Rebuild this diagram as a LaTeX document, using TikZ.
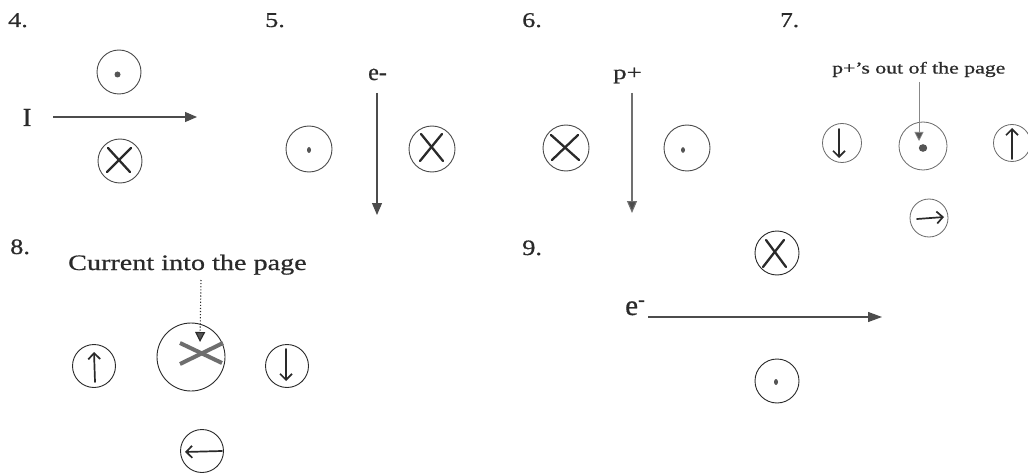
\documentclass[tikz,border=0pt]{standalone}
\usepackage{fontspec}
\setmainfont{Liberation Serif}[FakeBold=0.6]
\usetikzlibrary{arrows.meta,calc}
\definecolor{ink}{HTML}{2A2A2A}
\definecolor{ringc}{HTML}{4A4A4A}
\definecolor{ringl}{HTML}{6A6A6A}
\definecolor{beamc}{HTML}{4C4C4C}
\definecolor{dotc}{HTML}{555555}
\definecolor{bigx}{HTML}{6E6E6E}
\newcommand{\sctxt}[3]{\scalebox{#2}[1]{\fontsize{#1pt}{#1pt}\selectfont #3}}
\begin{document}
\begin{tikzpicture}[x=1pt,y=-1pt,
  ring/.style={circle,draw=ringc,line width=0.9pt,inner sep=0pt,minimum size=#1},
  ring/.default=44pt,
  lring/.style={ring=#1,draw=ringl,line width=0.8pt},
  lbl/.style={anchor=base west,inner sep=0pt,text=ink},
  beam/.style={draw=beamc,line width=1.1pt,-{Triangle[length=12pt,width=10pt,fill=beamc]}},
  xstroke/.style={draw=ink,line width=2.3pt,line cap=round},
  handarr/.style={draw=ink,line width=1.7pt,line cap=round,-{Straight Barb[length=6pt,width=12pt]}},
  fdot/.style={fill=dotc}
]
\useasboundingbox (0,0) rectangle (1028,476);
\fill[white] (0,0) rectangle (1028,476);

% ---------- numbers ----------
\node[lbl] (n4) at (8,27)    {\sctxt{21}{1.25}{4.}};
\node[lbl] (n5) at (265,27)  {\sctxt{21}{1.25}{5.}};
\node[lbl] (n6) at (522,27)  {\sctxt{21}{1.25}{6.}};
\node[lbl] (n7) at (780,27)  {\sctxt{21}{1.2}{7.}};
\node[lbl] (n8) at (10,254)  {\sctxt{22}{1.2}{8.}};
\node[lbl] (n9) at (522,255) {\sctxt{22}{1.2}{9.}};

% ---------- panel 4 ----------
\node[lbl] (lI) at (22.5,126) {\sctxt{26}{1}{I}};
\coordinate (a4s) at (53,117);
\coordinate (a4e) at (197,117);
\draw[beam] (a4s) -- (a4e);
\node[ring] (c4a) at (119,72) {};
\fill[fdot] ($(c4a)+(-1.5,2.5)$) circle (3pt);
\node[ring] (c4b) at (120,161) {};
\draw[xstroke] ($(c4b)+(-12,-13)$) -- ($(c4b)+(10,11)$);
\draw[xstroke] ($(c4b)+(-13,11)$) -- ($(c4b)+(11,-13)$);

% ---------- panel 5 ----------
\node[lbl] (le5) at (368,80) {\sctxt{24}{1}{e-}};
\coordinate (a5s) at (377,93);
\coordinate (a5e) at (377,215);
\draw[beam] (a5s) -- (a5e);
\node[ring=46pt] (c5a) at (309,149) {};
\fill[fdot] ($(c5a)+(0,1)$) ellipse (2pt and 3pt);
\node[ring=46pt] (c5b) at (432,149) {};
\draw[xstroke] ($(c5b)+(-11,-15)$) -- ($(c5b)+(11,12)$);
\draw[xstroke] ($(c5b)+(-12,12)$) -- ($(c5b)+(10,-15)$);

% ---------- panel 6 ----------
\node[lbl] (lp6) at (613,79) {\sctxt{20}{1.35}{p+}};
\coordinate (a6s) at (632,93);
\coordinate (a6e) at (632,213);
\draw[beam,draw=beamc!80] (a6s) -- (a6e);
\node[ring=46pt] (c6a) at (566,148) {};
\draw[xstroke] ($(c6a)+(-15,-13)$) -- ($(c6a)+(13,12)$);
\draw[xstroke] ($(c6a)+(-14,12)$) -- ($(c6a)+(12,-13)$);
\node[ring=46pt] (c6b) at (687,148) {};
\fill[fdot] ($(c6b)+(-4,2)$) ellipse (2pt and 2.8pt);

% ---------- panel 7 ----------
\node[lbl] (lp7) at (832,73.5) {\sctxt{16.5}{1.32}{p+'s out of the page}};
\coordinate (t7s) at (919,82);
\coordinate (t7e) at (919,141);
\node[lring=48pt] (c7c) at (923,146) {};
\draw[draw=ringl!80,line width=0.7pt,-{Triangle[length=9pt,width=9pt,fill=dotc]}] (t7s) -- (t7e);
\fill[fdot] ($(c7c)+(0,2)$) ellipse (4.2pt and 3.8pt);
\node[lring=39pt] (c7l) at (842,143) {};
\draw[handarr] ($(c7l)+(-3,-14)$) -- ($(c7l)+(-3,15)$);
\node[lring=37pt] (c7r) at (1012,143) {};
\draw[handarr] ($(c7r)+(0,16)$) -- ($(c7r)+(0,-15)$);
\node[lring=38pt] (c7b) at (929,218) {};
\draw[handarr] ($(c7b)+(-12,1)$) -- ($(c7b)+(15,-1)$);

% ---------- panel 8 ----------
\node[lbl] (lc8) at (68,270) {\sctxt{22}{1.28}{Current into the page}};
\coordinate (t8s) at (201,280);
\coordinate (t8e) at (200,342);
\node[ring=68pt,draw=ink] (c8c) at (191,357) {};
\draw[bigx,line width=4pt] ($(c8c)+(-11,-14)$) -- ($(c8c)+(31,6)$);
\draw[bigx,line width=4pt] ($(c8c)+(-11,7)$) -- ($(c8c)+(32,-14)$);
\draw[draw=ink,line width=1.1pt,dotted,-{Triangle[length=10pt,width=10pt,fill=dotc]}] (t8s) -- (t8e);
\node[ring=43pt,draw=ink] (c8l) at (94,366) {};
\draw[handarr] ($(c8l)+(1,16)$) -- ($(c8l)+(0,-14)$);
\node[ring=43pt,draw=ink] (c8r) at (287,366) {};
\draw[handarr] ($(c8r)+(-1,-17)$) -- ($(c8r)+(-1,15)$);
\node[ring=43pt,draw=ink] (c8b) at (202,451) {};
\draw[handarr] ($(c8b)+(20,0)$) -- ($(c8b)+(-17,1)$);

% ---------- panel 9 ----------
\node[lbl] (le9) at (625,315) {\sctxt{29}{1}{e\textsuperscript{-}}};
\coordinate (a9s) at (648,317);
\coordinate (a9e) at (882,317);
\draw[beam,-{Triangle[length=14pt,width=10pt,fill=beamc]}] (a9s) -- (a9e);
\node[ring=44pt,draw=ink] (c9a) at (777,253) {};
\draw[xstroke] ($(c9a)+(-11,-13)$) -- ($(c9a)+(9,14)$);
\draw[xstroke] ($(c9a)+(-14,14)$) -- ($(c9a)+(7,-13)$);
\node[ring=44pt,draw=ink] (c9b) at (777,381) {};
\fill[fdot] ($(c9b)+(-1,1)$) ellipse (2pt and 3pt);
\end{tikzpicture}
\end{document}
